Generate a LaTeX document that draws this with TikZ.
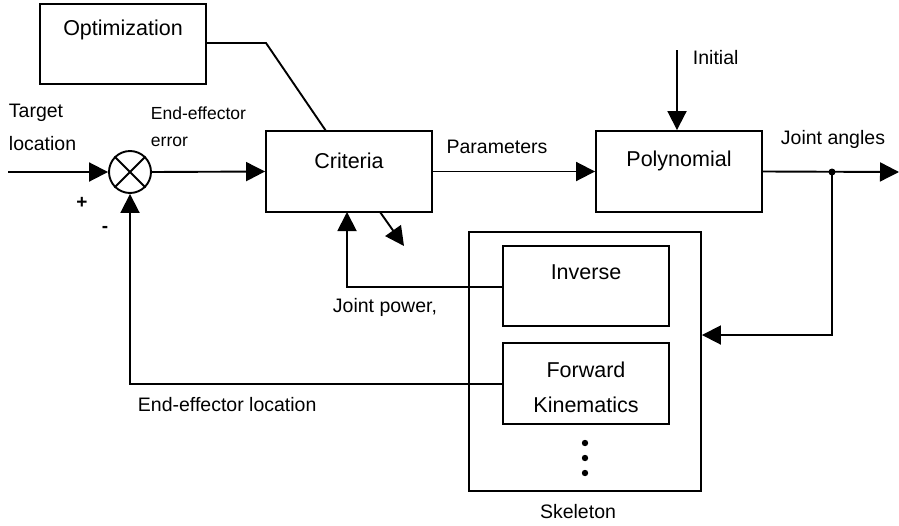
\documentclass[tikz,border=0pt]{standalone}
\usepackage{fontspec}
\setmainfont{Liberation Sans}
\usetikzlibrary{arrows.meta}
\begin{document}
\begin{tikzpicture}[x=1pt,y=-1pt,
  line width=1.9pt,
  big/.style={font=\fontsize{21.5}{25}\selectfont},
  lbl/.style={font=\fontsize{19.5}{23}\selectfont,inner sep=0pt},
  arr/.style={-{Triangle[length=19pt,width=19pt]}},
]
\useasboundingbox (0,0) rectangle (899,525);
% blocks
\node[draw,minimum width=166pt,minimum height=80pt,inner sep=0pt] (opt) at (123,44) {};
\node[big] at (123,30) {Optimization};
\node[draw,minimum width=166pt,minimum height=81pt,inner sep=0pt] (crit) at (349,171.5) {};
\node[big] at (349,161) {Criteria};
\node[draw,minimum width=166pt,minimum height=81pt,inner sep=0pt] (poly) at (679,171.5) {};
\node[big] at (679,161) {Polynomial};
\node[draw,minimum width=232pt,minimum height=259pt,inner sep=0pt] (skel) at (585,361.5) {};
\node[draw,minimum width=166pt,minimum height=80pt,inner sep=0pt] (inv) at (586,286) {};
\node[big] at (586,272) {Inverse};
\node[draw,minimum width=166pt,minimum height=81pt,inner sep=0pt] (fwd) at (586,383.5) {};
\node[big,align=center,font=\fontsize{21.5}{35}\selectfont] at (586,387) {Forward\\Kinematics};
\foreach \yy in {443,458,473} \fill (585,\yy) circle (3.2pt);
\node[lbl] at (578,512) {Skeleton};
% summing junction
\node[draw,circle,minimum size=42pt,inner sep=0pt] (sum) at (130,172) {};
\draw (sum.north west) -- (sum.south east) (sum.north east) -- (sum.south west);
% coordinates
\coordinate (in) at (8,172);
\coordinate (out) at (899,172);
\coordinate (br) at (832,172);
\coordinate (ini) at (677,50);
\coordinate (optc) at (266,43);
\coordinate (diag) at (404,246);
% connectors
\draw[arr] (in) -- (sum.west);
\draw[arr] (sum.east) -- (crit.west);
\draw[arr] (crit.east) -- (poly.west);
\draw[arr] (ini) -- (poly.north -| ini);
\draw[arr] (poly.east) -- (out);
\fill (br) circle (3.5pt);
\draw[arr] (br) |- (skel.east |- 0,335);
\draw (opt.east |- optc) -- (optc) -- (326,131);
\draw[arr] (inv.west |- 0,287) -| (347,212);
\draw[arr] (fwd.west |- 0,384) -| (sum.south);
\draw[arr] (380,212) -- (diag);
% labels
\node[lbl,anchor=west] at (8,113) {Target};
\node[lbl,anchor=west] at (8,144) {location};
\node[lbl,anchor=west,font=\fontsize{17.5}{20}\selectfont] at (150,113) {End-effector};
\node[lbl,anchor=west,font=\fontsize{17.5}{20}\selectfont] at (150,142) {error};
\node[lbl,font=\bfseries\fontsize{19}{22}\selectfont] at (82,203) {+};
\node[lbl,font=\bfseries\fontsize{19}{22}\selectfont] at (105,229) {-};
\node[lbl] at (497,147) {Parameters};
\node[lbl,anchor=west] at (692,58) {Initial};
\node[lbl] at (833,139) {Joint angles};
\node[lbl] at (385,307) {Joint power,};
\node[lbl,anchor=west] at (137,405) {End-effector location};
\end{tikzpicture}
\end{document}
